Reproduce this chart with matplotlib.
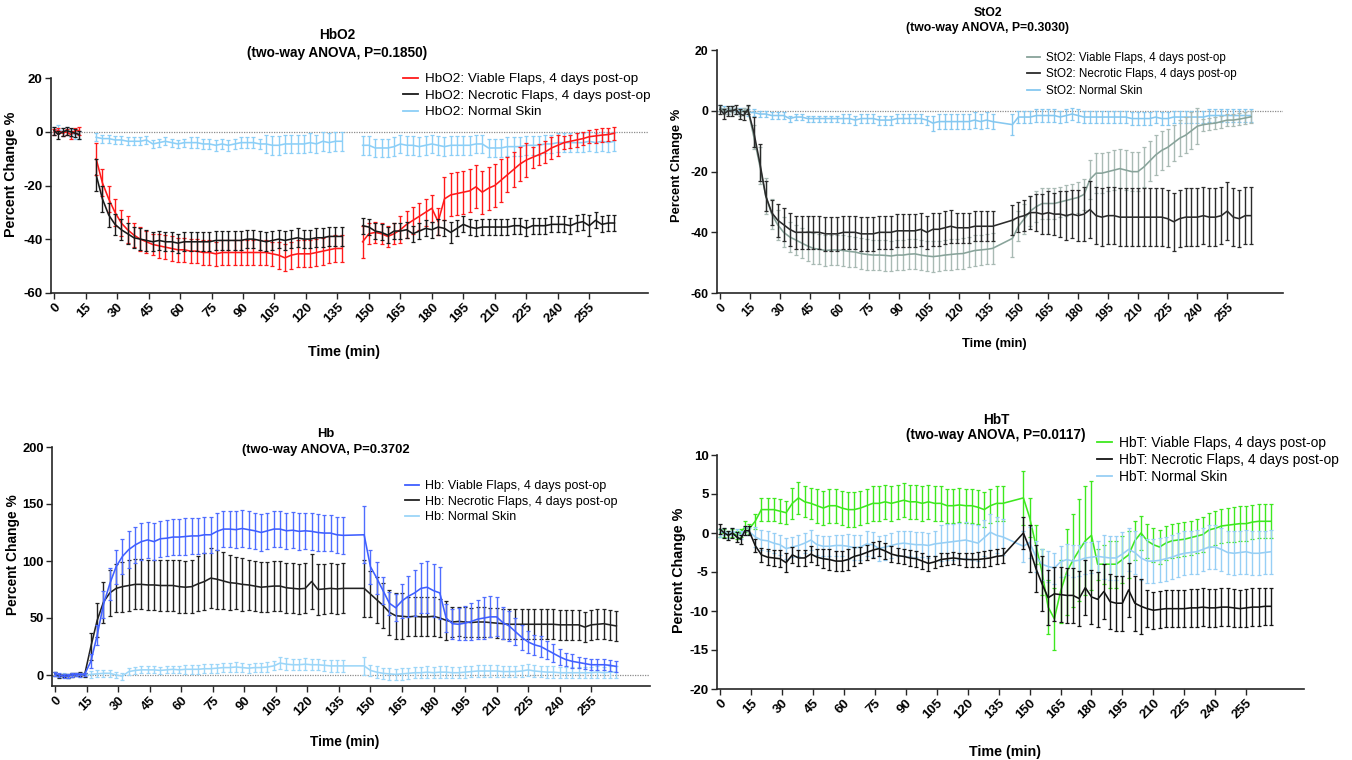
import numpy as np
import matplotlib.pyplot as plt
from matplotlib.lines import Line2D

plt.rcParams['font.family'] = ['Liberation Sans', 'DejaVu Sans']

nan = np.nan

# sampling times (min): baseline, first recording block, second recording block
t_base = [0, 2, 4, 6, 8, 10, 12, 14]
t_mid = list(range(17, 138, 3))
t_late = list(range(147, 268, 3))
time = np.array(t_base + t_mid + t_late)
xticks = list(range(0, 256, 15))

# ---------------- HbO2 ----------------
hbo2_viable = [0, 0.5, -0.5, 0, -1, 0.5, 0.5, nan,
    nan, -10, -19, -25, -30, -34, -36.5, -38.5, -40, -41,
    -42, -42.5, -43, -43.5, -44, -44, -44.5, -44.5, -45, -45,
    -45.5, -45, -45, -45, -45, -45, -45, -45, -45, -45.5,
    -46, -47, -46, -45.5, -45.5, -45.5, -45, -44.5, -44, -43.5,
    -43.5,
    -41, -38, -37.5, -38, -39, -38, -36.5, -34.5, -33, -31.5,
    -30, -28.5, -33.5, -25, -23.5, -23, -22.5, -22, -20.5, -22.5,
    -21, -20, -18, -16, -14, -12, -10.5, -9.5, -8.5, -7.5,
    -6, -5, -4, -3.5, -3, -2.5, -1.8, -1.5, -1.2, -1,
    -0.5]
hbo2_viable_err = [1, 1, 1, 1, 1.5, 1, 1.5, nan,
    nan, 6, 5, 5, 5, 5, 5, 4.5, 4.5, 4,
    4, 4.5, 4.5, 4.5, 4.5, 4.5, 4.5, 4.5, 4.5, 4.5,
    4.5, 4.5, 4.5, 4.5, 4.5, 4.5, 4.5, 4.5, 4.5, 4.5,
    5, 5, 5, 5, 5, 5, 5, 5, 5, 5,
    5,
    6, 4, 4, 4, 4, 4, 5, 5, 5, 5,
    5, 5, 5, 8, 8, 8, 8, 8, 8, 8,
    8, 8, 8, 6.5, 6.5, 6.5, 6.5, 4, 4, 4,
    4, 4, 2.5, 2.5, 2.5, 2.5, 2.5, 2.5, 2.5, 2.5,
    2.5]
hbo2_necrotic = [0.5, -1, 0, 0.5, 0, -0.5, -1, nan,
    nan, -16, -25, -31, -34.5, -36.5, -38, -39.5, -40, -40.5,
    -41, -40.5, -41, -41, -41.5, -41, -41, -41, -41, -41,
    -40.5, -40.5, -40.5, -40.5, -40.5, -40, -40, -40.5, -41, -40.5,
    -40, -40.5, -40, -39.5, -40, -40, -39.5, -39.5, -39, -39,
    -39,
    -35, -35.5, -37, -37.5, -38.5, -37, -37, -36.5, -38, -37,
    -36, -36.5, -35.5, -36, -37.5, -36, -34.5, -35.5, -36, -35.5,
    -35.5, -35.5, -35.5, -35.5, -35, -35, -36, -35, -35, -35,
    -34.5, -34.5, -34.5, -35, -34, -33.5, -35, -33, -34.5, -34,
    -34]
hbo2_necrotic_err = [1.5, 1.5, 1.5, 1.5, 1.5, 1.5, 1.5, nan,
    nan, 6, 5, 4.5, 4, 4, 4, 4, 4, 4,
    3.5, 3.5, 3.5, 3.5, 3.5, 3.5, 3.5, 3.5, 3.5, 3.5,
    3.5, 3.5, 3.5, 3.5, 3.5, 3.5, 3.5, 3.5, 3.5, 3.5,
    3.5, 3.5, 3.5, 3.5, 3.5, 3.5, 3.5, 3.5, 3.5, 3.5,
    3.5,
    3, 3, 3, 3, 3, 3, 3, 3, 3, 3,
    3, 3, 3, 3, 4, 3, 3, 3, 3, 3,
    3, 3, 3, 3, 3, 3, 3, 3, 3, 3,
    3, 3, 3, 3, 3, 3, 4, 3, 3, 3,
    3]
hbo2_normal = [0.5, 1, 0, 0.5, -0.5, -1, -1, nan,
    nan, -2, -2.5, -2.5, -3, -3, -3.5, -3.5, -3.5, -3,
    -4.5, -4, -3.5, -4, -4.5, -4, -4, -4, -4.5, -4.5,
    -5, -4.5, -5, -4.5, -4, -4, -4, -4.5, -4.5, -5,
    -5, -4.5, -4.5, -4.5, -4.5, -4, -4.5, -3.5, -4, -3.5,
    -3.5,
    -5, -5, -6, -6, -6, -5.5, -4.5, -5, -5, -5.5,
    -5, -4.5, -5, -5.5, -5, -5, -5, -5, -4.5, -4.5,
    -6, -6, -6, -5.5, -5.5, -5.5, -5, -5, -5, -4.5,
    -4.5, -4, -4, -4, -4, -4, -3.5, -4, -3.5, -4,
    -3.5]
hbo2_normal_err = [1.5, 1.5, 1.5, 1.5, 1.5, 1.5, 1.5, nan,
    nan, 1.5, 1.5, 1.5, 1.5, 1.5, 1.5, 1.5, 1.5, 1.5,
    1.5, 1.5, 1.5, 1.5, 1.5, 1.5, 2, 2, 2, 2,
    2, 2, 2, 2, 2, 2, 2, 2, 3.5, 3.5,
    3.5, 3.5, 3.5, 3.5, 3.5, 3.5, 3.5, 3.5, 3.5, 3.5,
    3.5,
    3.5, 3.5, 3.5, 3.5, 3.5, 3.5, 3.5, 3.5, 3.5, 3.5,
    3.5, 3.5, 3.5, 3.5, 3.5, 3.5, 3.5, 3.5, 3.5, 3.5,
    3.5, 3.5, 3.5, 3.5, 3.5, 3.5, 3.5, 3.5, 3.5, 3.5,
    3.5, 3.5, 3.5, 3.5, 3.5, 3.5, 3.5, 3.5, 3.5, 3.5,
    3.5]

# ---------------- StO2 ----------------
sto2_viable = [1, 0, 0, 0.5, 0, -0.5, 0, 0.5,
    -8.5, -18, -28, -34, -37.5, -40, -41.5, -42.5, -43.5, -44.5,
    -45.3, -45.6, -46, -45.8, -45.8, -46, -46.3, -46.5, -47, -47.3,
    -47.5, -47.5, -47.6, -47.8, -47.5, -47.5, -47.2, -47.1, -47.5, -47.8,
    -48, -47.8, -47.5, -47.3, -47.1, -47, -46.5, -46, -45.8, -45.6,
    -45.3,
    -42, -38, -35.5, -33, -31.5, -30.5, -30.5, -30.5, -30, -29.5,
    -29, -28.5, -27.5, -22.5, -20.5, -20.5, -20, -19.5, -19, -19.5,
    -20, -20, -18.5, -16.5, -14.5, -13, -12, -10.5, -9, -8,
    -6.5, -5, -4.5, -4.2, -4, -3.5, -3, -3, -2.7, -2.3,
    -1.9]
sto2_viable_err = [1, 1, 1, 1, 1, 1, 1, 1,
    4, 6, 6, 5, 5, 5, 5, 5, 5, 5,
    5, 5, 5, 5, 5, 5, 5, 5, 5, 5,
    5, 5, 5, 5, 5, 5, 5, 5, 5, 5,
    5, 5, 5, 5, 5, 5, 5, 5, 5, 5,
    5,
    6, 5, 5, 5, 5, 5, 5, 5, 5, 5,
    5, 5, 5, 6.5, 6.5, 6.5, 6.5, 6.5, 6.5, 6.5,
    6.5, 6.5, 6.5, 6.5, 6.5, 6.5, 6, 6, 6, 6,
    6, 6, 2, 2, 2, 2, 2, 2, 2, 2,
    2]
sto2_necrotic = [0.5, -1, 0, 0, 0.5, -1, -1.5, 0.5,
    -7, -17, -28, -33.5, -36, -37.5, -39, -40, -40, -40,
    -40, -40, -40.5, -40.5, -40.5, -40, -40, -40, -40.5, -40.5,
    -40.5, -40, -40, -40, -39.5, -39.5, -39.5, -39.5, -39, -40,
    -39, -39, -38.5, -38, -38.5, -38.5, -38.5, -38, -38, -38,
    -38,
    -36, -35, -34.5, -33.5, -33.5, -34, -33.5, -34, -34, -34.5,
    -34, -34.5, -34, -32.5, -34.5, -35, -34.5, -34.5, -35, -35,
    -35, -35, -35, -35, -35, -35, -35.5, -36.5, -35.5, -35,
    -35, -35, -34.5, -35, -35, -34.5, -33, -35, -35.5, -34.5,
    -34.5]
sto2_necrotic_err = [1.5, 1.5, 1.5, 1.5, 1.5, 1.5, 1.5, 1.5,
    5, 6, 5, 4, 5.5, 5.5, 5.5, 5.5, 5.5, 5.5,
    5.5, 5.5, 5.5, 5.5, 5.5, 5.5, 5.5, 5.5, 5.5, 5.5,
    5.5, 5.5, 5.5, 5.5, 5.5, 5.5, 5.5, 5.5, 5.5, 5.5,
    5.5, 5.5, 5.5, 5.5, 5, 5, 5, 5, 5, 5,
    5,
    5, 5, 5, 5.5, 6, 6.5, 7, 7, 7.5, 8,
    8, 8.5, 9, 9.5, 9.5, 9.5, 9.5, 9.5, 9.5, 9.5,
    9.5, 9.5, 9.5, 9.5, 9.5, 9.5, 9.5, 9.5, 9.5, 9.5,
    9.5, 9.5, 9.5, 9.5, 9.5, 9.5, 9.5, 9.5, 9.5, 9.5,
    9.5]
sto2_normal = [1, 0.5, 0, 0.5, 0, 0, 0, -0.5,
    -0.5, -1, -1, -1.5, -1.5, -1.5, -2.5, -2, -2, -2.5,
    -2.5, -2.5, -2.5, -2.5, -2.5, -2.5, -2.5, -3, -2.5, -2.5,
    -2.5, -3, -3, -3, -2.5, -2.5, -2.5, -2.5, -2.5, -3,
    -4, -3.5, -3.5, -3.5, -3.5, -3.5, -3.5, -3, -3.5, -3,
    -3.5,
    -4.5, -2, -2, -2, -1.5, -1.5, -1.5, -1.5, -2, -1.5,
    -1, -1.5, -2, -2, -2, -2, -2, -2, -2, -2,
    -2.5, -2.5, -2.5, -2.5, -2, -2.5, -2.5, -2, -2, -2,
    -2, -2, -2, -1.5, -1.5, -1.5, -1.5, -1.5, -1.5, -1.5,
    -1.5]
sto2_normal_err = [1, 1, 1, 1, 1, 1, 1, 1,
    1, 1, 1, 1, 1, 1, 1, 1, 1, 1,
    1, 1, 1, 1, 1, 1.5, 1.5, 1.5, 1.5, 1.5,
    1.5, 1.5, 1.5, 1.5, 1.5, 1.5, 1.5, 1.5, 1.5, 1.5,
    2.5, 2.5, 2.5, 2.5, 2.5, 2.5, 2.5, 2.5, 2.5, 2.5,
    2.5,
    3.5, 2, 2, 2, 2, 2, 2, 2, 2, 2,
    2, 2, 2, 2, 2, 2, 2, 2, 2, 2,
    2, 2, 2, 2, 2, 2, 2, 2, 2, 2,
    2, 2, 2, 2, 2, 2, 2, 2, 2, 2,
    2]

# ---------------- Hb ----------------
hb_viable = [1, 0, -1, -1, 0, 0.5, 0, 0.5,
    12, 35, 62, 80, 95, 104, 110, 114, 117, 118.5,
    117, 119.5, 120, 121, 121, 121.5, 122, 122, 123, 123,
    126, 128, 128, 127.5, 128.5, 127.5, 126.5, 125, 126.5, 128,
    128, 126.5, 127, 126, 126.5, 126, 125, 124.5, 124.5, 123,
    122.5,
    123, 95, 85, 74, 63, 59, 65, 69, 72, 76,
    77, 74, 72, 50, 45, 44.5, 45.5, 47, 49, 50,
    51, 51, 46, 43, 38, 33, 29, 26.5, 25, 22,
    19, 16, 13.5, 12, 11, 10, 9, 9, 9, 8.5,
    7.5]
hb_viable_err = [1.5, 1.5, 1.5, 1.5, 1.5, 1.5, 1.5, 1.5,
    6, 9, 12, 14, 15, 15, 16, 16, 16, 16,
    16, 16, 16, 16, 16, 16, 16, 16, 16, 16,
    16, 16, 16, 16, 16, 16, 16, 16, 16, 16,
    16, 16, 16, 16, 16, 16, 16, 16, 16, 16,
    16,
    25, 15, 14, 12, 10, 12, 15, 18, 20, 22,
    23, 23, 23, 12, 13, 14, 15, 16, 17, 18,
    18, 17, 14, 13, 12, 11, 10, 9, 9, 8,
    8, 7, 6, 6, 5, 5, 5, 5, 5, 5,
    5]
hb_necrotic = [1, -1, -0.5, -1, 0, 0.5, 1, 0,
    25, 48, 64, 72, 76, 77.5, 78.5, 79.5, 79.5, 79,
    79, 78.5, 78.5, 78.5, 77.5, 77, 77.5, 80, 82, 85,
    84, 82.5, 81, 80.5, 79.5, 79, 78, 77, 77.5, 78,
    78, 76.5, 76, 75.5, 76, 82, 75, 75.5, 76, 75.5,
    76,
    76, 71, 66, 61, 55, 52, 51.5, 51, 51.5, 51,
    51, 51.5, 50, 48, 46.5, 47, 46.5, 46, 46.5, 46.5,
    46, 45.5, 45, 44.5, 44.5, 44.5, 44.5, 44.5, 44.5, 44.5,
    44.5, 44, 44, 44, 44, 42, 44, 44.5, 45, 44,
    43]
hb_necrotic_err = [1.5, 1.5, 1.5, 1.5, 1.5, 1.5, 1.5, 1.5,
    12, 15, 18, 20, 21, 22, 22, 22, 22, 22,
    22, 22, 22, 22, 23, 23, 23, 24, 25, 26,
    26, 25, 24, 23, 23, 22, 22, 22, 22, 22,
    22, 22, 22, 22, 22, 24, 22, 22, 22, 22,
    22,
    25, 20, 20, 20, 20, 20, 20, 17, 17, 17,
    17, 17, 17, 17, 13, 13, 13, 13, 13, 13,
    13, 13, 13, 13, 13, 13, 13, 13, 13, 13,
    13, 13, 13, 13, 13, 13, 13, 13, 13, 13,
    13]
hb_normal = [1, -1, 0, -1, 0, 0.5, 0, 0,
    0.5, 1, 1.5, 1.5, 0, -1, 3, 4, 4.5, 4.5,
    4.5, 4, 4.5, 5, 4.5, 5, 5, 5, 5.5, 5.5,
    6, 6.5, 6.5, 7, 6.5, 6, 6.5, 6.5, 7, 8,
    10.5, 9.5, 9, 9, 9.5, 9, 9, 8.5, 8, 8,
    8,
    8, 4, 2.5, 1.5, 1, 0.5, 1, 1.5, 2, 2,
    2.5, 2, 2.5, 2.5, 2, 2, 2.5, 3, 3.5, 3.5,
    3.5, 3.5, 3, 3, 3, 3.5, 4.5, 3.5, 3, 2.5,
    2.5, 2, 2, 2, 2, 2, 2, 2.5, 2, 2.5,
    2.5]
hb_normal_err = [1.5, 1.5, 1.5, 1.5, 1.5, 1.5, 1.5, 1.5,
    3, 3, 3, 3, 3, 3, 3, 3, 3, 3,
    3, 3, 3, 3, 3, 4, 4, 4, 4, 4,
    4, 4, 4, 4, 4, 4, 4, 4, 4, 4,
    5, 5, 5, 5, 5, 5, 5, 5, 5, 5,
    5,
    8, 5, 5, 5, 5, 5, 5, 5, 5, 5,
    5, 5, 5, 5, 5, 5, 5, 5, 5, 5,
    5, 5, 5, 5, 5, 5, 5, 5, 5, 5,
    5, 5, 5, 5, 5, 5, 5, 5, 5, 5,
    5]

# ---------------- HbT ----------------
hbt_viable = [0, 0, -0.2, 0, -0.3, 0, 0.8, 0.5,
    1.5, 3, 3, 3, 2.8, 2.6, 3.8, 4.5, 4, 3.8,
    3.5, 3.2, 3.5, 3.5, 3.2, 3, 3, 3.2, 3.5, 3.8,
    3.8, 4, 3.8, 4, 4.2, 4, 4, 3.8, 4, 3.8,
    3.8, 3.5, 3.5, 3.6, 3.5, 3.5, 3.3, 3, 3.5, 3.8,
    3.8,
    4.5, 2, -1.5, -5, -9.5, -11, -7.5, -5, -3.5, -2.2,
    -1, -0.3, -4, -4, -4, -4, -3.4, -2.8, -1, 0,
    -1, -1.5, -1.8, -1.3, -1, -0.9, -0.8, -0.6, -0.4, -0.2,
    0.4, 0.6, 0.9, 1, 1.1, 1.2, 1.2, 1.4, 1.5, 1.5,
    1.5]
hbt_viable_err = [0.5, 0.5, 0.5, 0.5, 0.5, 0.5, 0.7, 0.6,
    1, 1.5, 1.5, 1.5, 1.5, 1.5, 2, 2, 2, 2,
    2.2, 2.2, 2.2, 2.2, 2.2, 2.2, 2.2, 2.2, 2.2, 2.2,
    2.2, 2.2, 2.2, 2.2, 2.2, 2.2, 2.2, 2.2, 2.2, 2.2,
    2.2, 2.2, 2.2, 2.2, 2.2, 2.2, 2.2, 2.2, 2.2, 2.2,
    2.2,
    3.5, 2.5, 2.5, 3, 3.5, 4, 4, 5.5, 6, 6.5,
    7, 7, 2, 2.5, 3, 3, 3, 3, 2.5, 2.2,
    2.2, 2.2, 2.2, 2.2, 2.2, 2.2, 2.2, 2.2, 2.2, 2.2,
    2.2, 2.2, 2.2, 2.2, 2.2, 2.2, 2.2, 2.2, 2.2, 2.2,
    2.2]
hbt_necrotic = [0.5, 0, -0.3, 0, -0.5, -0.8, 0.3, 0.3,
    -1.6, -2.8, -3.1, -3.2, -3.3, -3.8, -2.8, -3.2, -3.2, -2.7,
    -3.1, -3.3, -3.4, -3.6, -3.6, -3.4, -3, -2.8, -2.5, -2.2,
    -2, -2.3, -2.7, -2.9, -3, -3.2, -3.3, -3.6, -3.9, -3.7,
    -3.4, -3.3, -3.2, -3.3, -3.4, -3.4, -3.4, -3.3, -3.2, -3,
    -2.9,
    0, -2, -4.5, -6.5, -8.3, -7.8, -7.9, -8, -8, -8.4,
    -7, -8.2, -8.5, -7.5, -8.8, -9, -9, -7.3, -9, -9.4,
    -9.7, -9.9, -9.8, -9.7, -9.7, -9.7, -9.7, -9.6, -9.6, -9.5,
    -9.6, -9.6, -9.5, -9.5, -9.6, -9.7, -9.6, -9.5, -9.5, -9.4,
    -9.4]
hbt_necrotic_err = [0.6, 0.6, 0.6, 0.6, 0.6, 0.6, 0.6, 0.6,
    0.8, 0.9, 1, 1, 1.1, 1.2, 1, 1, 1, 1,
    1, 1.2, 1.3, 1.3, 1.3, 1.3, 1.2, 1, 1, 1,
    1, 1, 1, 1, 1, 1, 1, 1, 1, 0.8,
    0.8, 0.8, 0.8, 0.8, 0.9, 0.9, 1, 1, 1, 1,
    1,
    2, 3, 3, 3.5, 3.5, 3.5, 3.5, 3.5, 3.5, 3.5,
    3.5, 3.5, 3.5, 3.5, 3.5, 3.5, 3.5, 3.5, 3.5, 3.5,
    2.4, 2.4, 2.4, 2.4, 2.4, 2.4, 2.4, 2.4, 2.4, 2.4,
    2.4, 2.4, 2.4, 2.4, 2.4, 2.4, 2.4, 2.4, 2.4, 2.4,
    2.4]
hbt_normal = [0, 0.2, -0.2, 0.2, 0, -0.3, 0.3, 0.2,
    -0.5, -0.9, -1, -1.3, -1.5, -2, -1.8, -1.6, -1.3, -0.9,
    -1.5, -1.7, -1.7, -1.6, -1.6, -1.7, -1.9, -1.8, -1.4, -1.5,
    -2, -1.8, -1.6, -1.4, -1.3, -1.4, -1.5, -1.5, -1.6, -1.4,
    -1.3, -1.2, -1.1, -1, -0.9, -1.1, -1.3, -0.6, 0.1, -0.3,
    -0.5,
    -1.7, -1.2, -3, -4, -4.3, -4.5, -3.7, -3.4, -3.6, -3.5,
    -3.2, -3.1, -3, -3.1, -3.2, -3.2, -2.7, -2.1, -2.5, -3.2,
    -3.6, -3.6, -3.5, -3.3, -3.1, -2.8, -2.6, -2.5, -2.4, -2.1,
    -1.8, -1.8, -2.1, -2.5, -2.6, -2.5, -2.4, -2.6, -2.6, -2.5,
    -2.4]
hbt_normal_err = [0.5, 0.5, 0.5, 0.5, 0.5, 0.5, 0.5, 0.5,
    1.3, 1.3, 1.3, 1.3, 1.3, 1.3, 1.3, 1.3, 1.3, 1.3,
    1.3, 1.3, 1.3, 1.3, 1.3, 1.6, 1.6, 1.6, 1.6, 1.6,
    1.6, 1.6, 1.6, 1.6, 1.6, 1.6, 1.6, 1.6, 1.6, 1.6,
    2.3, 2.3, 2.3, 2.3, 2.3, 2.3, 2.3, 2.3, 2.3, 2.3,
    2.3,
    2, 2, 2, 2, 2, 2, 2, 2, 2, 2,
    2, 2, 2, 2.8, 2.8, 2.8, 2.8, 2.8, 2.8, 2.8,
    2.8, 2.8, 2.8, 2.8, 2.8, 2.8, 2.8, 2.8, 2.8, 2.8,
    2.8, 2.8, 2.8, 2.8, 2.8, 2.8, 2.8, 2.8, 2.8, 2.8,
    2.8]

W, H = 1352, 760
fig = plt.figure(figsize=(W / 100, H / 100), dpi=100)


def px_rect(left, top, right, bottom):
    return [left / W, 1 - bottom / H, (right - left) / W, (bottom - top) / H]


def panel(rect, series, split, ylim, yticks, title, sub, title_x, title_y, tfs,
          leg_xy, lfs, lspace, tickfs, xlab_y, ylab_xy, zero_line=True):
    ax = fig.add_axes(rect)
    segs = [(0, 8), (8, 49), (49, 90)] if split else [(0, 90)]
    handles = []
    for vals, errs, col, ecol, lab, z in series:
        v = np.array(vals, float)
        e = np.array(errs, float)
        for a, b in segs:
            ax.errorbar(time[a:b], v[a:b], yerr=e[a:b], color=col, ecolor=ecol,
                        lw=1.15, elinewidth=1.0, capsize=1.2, capthick=0.9,
                        zorder=z)
        handles.append(Line2D([], [], color=col, lw=1.3, label=lab))
    if zero_line:
        ax.axhline(0, color='#8c8c8c', ls=(0, (1, 1)), lw=0.9, zorder=1)
    ax.set_xlim(-1.5, 283)
    ax.set_ylim(*ylim)
    ax.set_yticks(yticks)
    ax.set_yticklabels([str(v) for v in yticks], fontweight='bold', fontsize=tickfs)
    ax.set_xticks(xticks)
    ax.set_xticklabels([str(v) for v in xticks], rotation=45, ha='right', va='top',
                       rotation_mode='anchor', fontweight='bold', fontsize=tickfs)
    for s in ['top', 'right']:
        ax.spines[s].set_visible(False)
    for s in ['left', 'bottom']:
        ax.spines[s].set_color('#262626')
        ax.spines[s].set_linewidth(1.2)
    ax.tick_params(direction='out', length=4, width=1, color='#262626', pad=2)
    ax.set_xlabel('Time (min)', fontweight='bold', fontsize=tfs + 0.5)
    ax.xaxis.set_label_coords(0.49, xlab_y)
    ax.set_ylabel('Percent Change %', fontweight='bold', fontsize=tfs + 0.5)
    ax.yaxis.set_label_coords(*ylab_xy)
    fig.text(title_x / W, 1 - title_y[0] / H, title, ha='center', va='center',
             fontweight='bold', fontsize=tfs)
    fig.text(title_x / W, 1 - title_y[1] / H, sub, ha='center', va='center',
             fontweight='bold', fontsize=tfs)
    ax.legend(handles=handles, loc='upper left',
              bbox_to_anchor=(leg_xy[0] / W, 1 - leg_xy[1] / H),
              bbox_transform=fig.transFigure, frameon=False, fontsize=lfs,
              handlelength=1.1, handletextpad=0.5, labelspacing=lspace,
              borderpad=0, borderaxespad=0)
    return ax


light = '#8ccff7'

panel(px_rect(51, 78.3, 648, 292.7),
      [(hbo2_viable, hbo2_viable_err, '#ff1a1a', '#ff1a1a', 'HbO2: Viable Flaps, 4 days post-op', 3),
       (hbo2_necrotic, hbo2_necrotic_err, '#1a1a1a', '#1a1a1a', 'HbO2: Necrotic Flaps, 4 days post-op', 4),
       (hbo2_normal, hbo2_normal_err, light, light, 'HbO2: Normal Skin', 2)],
      True, (-60, 20), [-60, -40, -20, 0, 20], 'HbO2', '(two-way ANOVA, P=0.1850)',
      337, (35, 53), 9.8, (403, 73), 9.7, 0.3, 9.5, -0.244, (-0.055, 0.554))

panel(px_rect(717, 50.3, 1283, 293),
      [(sto2_viable, sto2_viable_err, '#88a39a', '#a9bab4', 'StO2: Viable Flaps, 4 days post-op', 3),
       (sto2_necrotic, sto2_necrotic_err, '#2b2b2b', '#2b2b2b', 'StO2: Necrotic Flaps, 4 days post-op', 4),
       (sto2_normal, sto2_normal_err, '#86c8f0', '#86c8f0', 'StO2: Normal Skin', 2)],
      False, (-60, 20), [-60, -40, -20, 0, 20], 'StO2', '(two-way ANOVA, P=0.3030)',
      988, (13.3, 28.3), 8.8, (1027, 52), 8.4, 0.38, 8.8, -0.185, (-0.06, 0.527))

panel(px_rect(52, 447, 650, 686.4),
      [(hb_viable, hb_viable_err, '#3f5fff', '#4f6dff', 'Hb: Viable Flaps, 4 days post-op', 4),
       (hb_necrotic, hb_necrotic_err, '#222222', '#222222', 'Hb: Necrotic Flaps, 4 days post-op', 3),
       (hb_normal, hb_normal_err, '#9cd6f8', '#9cd6f8', 'Hb: Normal Skin', 2)],
      False, (-10, 200), [0, 50, 100, 150, 200], 'Hb', '(two-way ANOVA, P=0.3702',
      326, (434, 450), 9.4, (405, 480), 9.0, 0.3, 9.3, -0.203, (-0.054, 0.549))

panel(px_rect(717, 455, 1304, 689),
      [(hbt_viable, hbt_viable_err, '#3ee81f', '#3ee81f', 'HbT: Viable Flaps, 4 days post-op', 3),
       (hbt_necrotic, hbt_necrotic_err, '#151515', '#151515', 'HbT: Necrotic Flaps, 4 days post-op', 4),
       (hbt_normal, hbt_normal_err, '#97cff5', '#97cff5', 'HbT: Normal Skin', 3.5)],
      False, (-20, 10), [-20, -15, -10, -5, 0, 5, 10], 'HbT', '(two-way ANOVA, P=0.0117)',
      996, (420, 435), 9.8, (1097, 436), 10.0, 0.2, 9.5, -0.239, (-0.053, 0.508), zero_line=False)

fig.savefig('out.png', dpi=100)
